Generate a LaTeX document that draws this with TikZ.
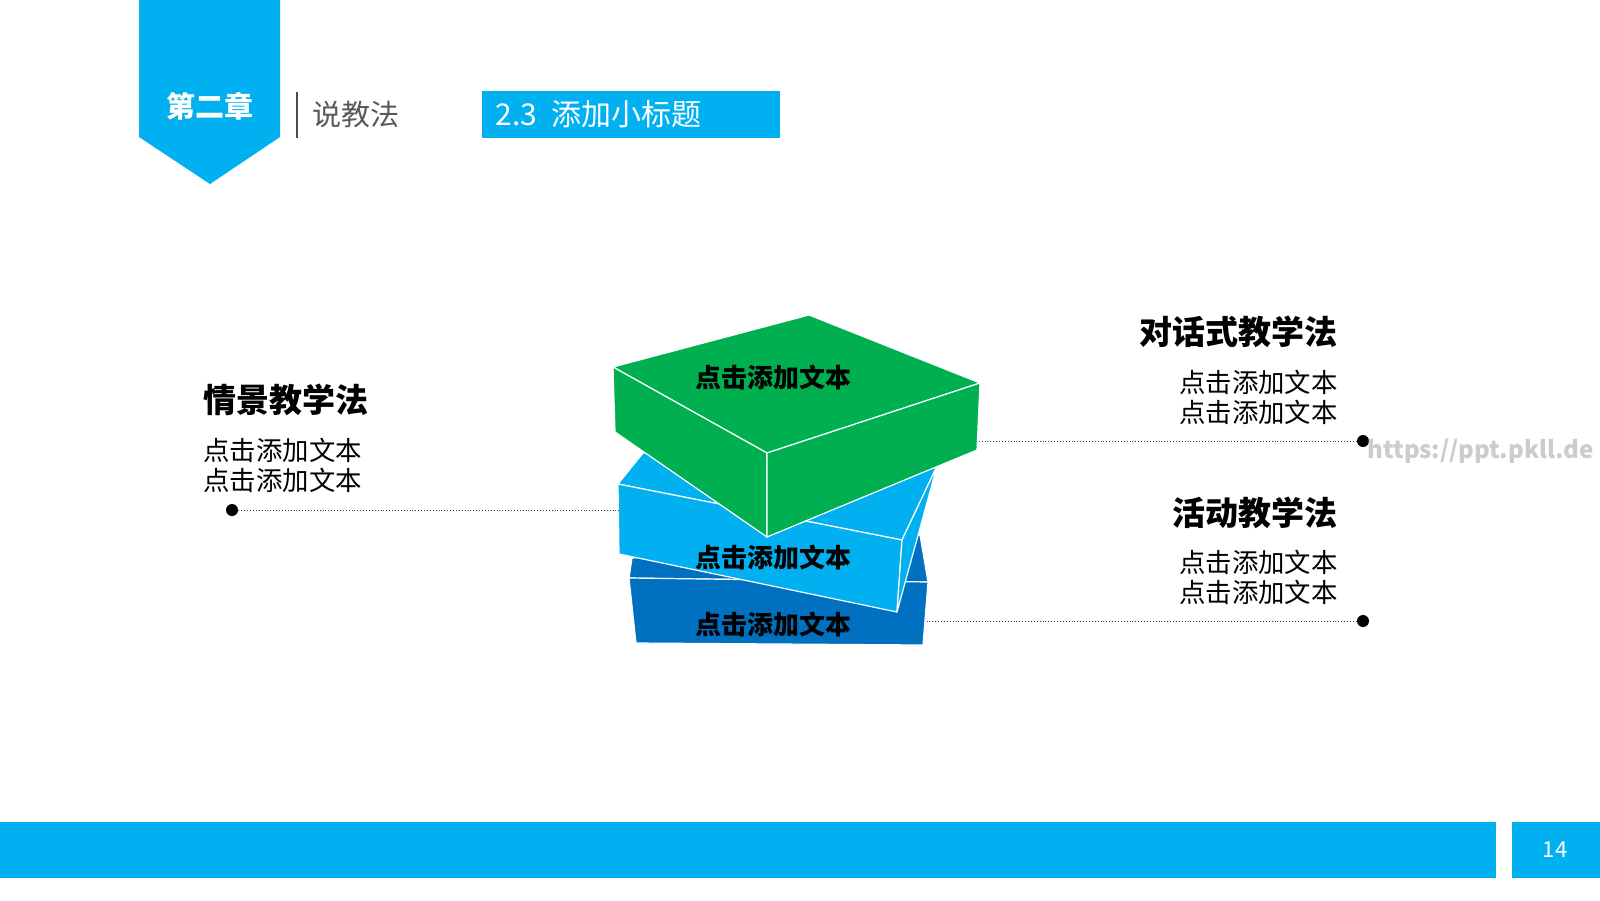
\documentclass[tikz,border=0pt]{standalone}
\usepackage{fontspec}
\setmainfont{Noto Sans CJK SC}
\usetikzlibrary{positioning}
\definecolor{slideblue}{RGB}{0,176,240}
\definecolor{deepblue}{RGB}{0,112,192}
\definecolor{slidegreen}{RGB}{0,176,80}

\begin{document}
\begin{tikzpicture}[
  x=0.5pt, y=-0.5pt,
  face/.style={draw=white, line width=0.6pt, line join=round},
  boxlbl/.style={font=\fontsize{13}{15}\selectfont\bfseries, text=black, inner sep=0pt},
  ttl/.style={font=\fontsize{16.5}{19}\selectfont\bfseries, inner sep=0pt},
  body/.style={font=\fontsize{13.2}{15}\selectfont, inner sep=0pt},
  enddot/.style={circle, fill=black, inner sep=0pt, minimum size=6pt},
  lead/.style={densely dotted, line width=0.45pt, black!75},
]
  \useasboundingbox (0,0) rectangle (1600,900);
  \fill[white] (0,0) rectangle (1600,900);

  % ---- Header ----
  \fill[slideblue] (139,0) -- (280,0) -- (280,137) -- (210,184) -- (139,137) -- cycle;
  \node[font=\fontsize{14.5}{16}\selectfont\bfseries, text=white] (chap) at (210,106) {第二章};
  \draw[black!70, line width=0.6pt] (297,92) -- (297,138);
  \node[anchor=west, inner sep=0pt, text=black!65, font=\fontsize{14.5}{16}\selectfont] (part) at (312,115) {说教法};
  \fill[slideblue] (482,91) rectangle (780,138);
  \node[anchor=west, inner sep=0pt, text=white, font=\fontsize{15}{17}\selectfont] (sub) at (495,114) {2.3\hspace{7pt}添加小标题};

  % ---- Footer ----
  \fill[slideblue] (0,822) rectangle (1496,878);
  \fill[slideblue] (1512,822) rectangle (1600,878);
  \node[text=white, font=\fontsize{11}{13}\selectfont] (pg) at (1555,850) {14};

  % ---- Stacked boxes ----
  \filldraw[face, fill=deepblue] (632,558) -- (920,535) -- (928,582) -- (629,578) -- cycle;
  \filldraw[face, fill=deepblue] (629,578) -- (928,582) -- (923,645) -- (636,643) -- cycle;
  \node[boxlbl] (boxC) at (773,624) {点击添加文本};

  \filldraw[face, fill=slideblue] (643,453) -- (937,466) -- (902,540) -- (618,484) -- cycle;
  \filldraw[face, fill=slideblue] (618,484) -- (902,540) -- (897,612) -- (619,554) -- cycle;
  \filldraw[face, fill=slideblue] (902,540) -- (937,466) -- (897,612) -- cycle;
  \node[boxlbl] (boxB) at (773,557) {点击添加文本};

  \filldraw[face, fill=slidegreen] (613,367) -- (809,315) -- (980,383) -- (767,453) -- cycle;
  \filldraw[face, fill=slidegreen] (613,367) -- (767,453) -- (767,537) -- (615,432) -- cycle;
  \filldraw[face, fill=slidegreen] (767,453) -- (980,383) -- (977,450) -- (767,537) -- cycle;
  \node[boxlbl] (boxA) at (773,377) {点击添加文本};

  \coordinate (edgeB) at (619,510);
  \coordinate (edgeA) at (978,441);
  \coordinate (edgeC) at (925,621);

  % ---- Captions ----
  \node[ttl, anchor=west] (t1) at (203,400) {情景教学法};
  \node[body, anchor=west, align=left] (b1) at (203,465) {点击添加文本\\点击添加文本};
  \node[enddot] (d1) at (232,510) {};

  \node[ttl, anchor=east] (t2) at (1338,332) {对话式教学法};
  \node[body, anchor=east, align=right] (b2) at (1338,397) {点击添加文本\\点击添加文本};
  \node[enddot] (d2) at (1363,441) {};

  \node[ttl, anchor=east] (t3) at (1338,513) {活动教学法};
  \node[body, anchor=east, align=right] (b3) at (1338,577) {点击添加文本\\点击添加文本};
  \node[enddot] (d3) at (1363,621) {};

  \node[anchor=west, inner sep=0pt, text=black!20, font=\fontsize{12}{14}\selectfont\bfseries] (wm) at (1367,451) {https://ppt.pkll.de};

  % ---- Leaders ----
  \draw[lead] (d1) -- (edgeB);
  \draw[lead] (d2) -- (edgeA);
  \draw[lead] (d3) -- (edgeC);
\end{tikzpicture}
\end{document}
